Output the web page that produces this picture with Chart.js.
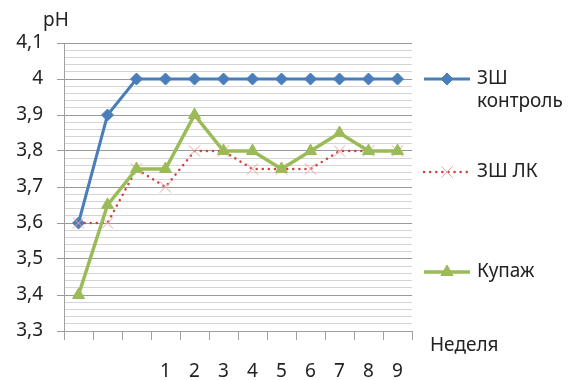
<!DOCTYPE html>
<html lang="ru">
<head>
  <meta charset="UTF-8" />
  <title>pH</title>
  <script src="https://cdn.jsdelivr.net/npm/chart.js"></script>
  <style>
    body { margin: 0; background: #fff; }
    .wrap { width: 571px; height: 380px; }
  </style>
</head>
<body>
  <div class="wrap"><canvas id="chart" width="571" height="380"></canvas></div>
  <script>
    // data
    const weeks = ['', '', '', '1', '2', '3', '4', '5', '6', '7', '8', '9'];
    const control = [3.6, 3.9, 4, 4, 4, 4, 4, 4, 4, 4, 4, 4];
    const lk = [3.6, 3.6, 3.75, 3.7, 3.8, 3.8, 3.75, 3.75, 3.75, 3.8, 3.8, 3.8];
    const kupazh = [3.4, 3.65, 3.75, 3.75, 3.9, 3.8, 3.8, 3.75, 3.8, 3.85, 3.8, 3.8];
    const seriesNames = [['ЗШ', 'контроль'], ['ЗШ ЛК'], ['Купаж']];
    const yTitle = 'pH';
    const xTitle = 'Неделя';

    const FONT = '"Noto Sans", sans-serif';
    const isMajor = v => Math.round(v * 100) % 10 === 0;

    // legend + axis titles drawn by hand to match the layout
    const extras = {
      id: 'extras',
      afterDraw(chart) {
        const c = chart.ctx;
        c.save();
        c.fillStyle = '#222';
        c.font = '19px ' + FONT;
        c.textBaseline = 'middle';
        c.textAlign = 'left';
        c.fillText(yTitle, 43, 21);
        c.fillText(xTitle, 430, 346);

        const rows = [79, 172, 272];
        chart.data.datasets.forEach((ds, i) => {
          const y = rows[i];
          c.beginPath();
          c.strokeStyle = ds.borderColor;
          c.lineWidth = ds.borderWidth;
          c.setLineDash(ds.borderDash || []);
          c.lineCap = ds.borderCapStyle || 'butt';
          c.moveTo(424, y);
          c.lineTo(470, y);
          c.stroke();
          c.setLineDash([]);
          c.lineCap = 'butt';
          c.fillStyle = ds.pointBackgroundColor;
          c.strokeStyle = ds.pointBorderColor;
          c.lineWidth = ds.pointBorderWidth;
          Chart.helpers.drawPoint(c, {
            pointStyle: ds.pointStyle,
            radius: ds.pointRadius,
            borderWidth: ds.pointBorderWidth
          }, 447, y);
          c.fillStyle = '#222';
          seriesNames[i].forEach((t, k) => c.fillText(t, 477, y + k * 23));
        });
        c.restore();
      }
    };

    const chart = new Chart(document.getElementById('chart'), {
      type: 'line',
      data: {
        labels: weeks,
        datasets: [
          {
            label: seriesNames[0].join(' '),
            data: control,
            borderColor: '#4a7ebb',
            pointBackgroundColor: '#4a7ebb',
            pointBorderColor: '#4a7ebb',
            borderWidth: 3,
            pointStyle: 'rectRot',
            pointRadius: 6,
            pointBorderWidth: 1,
            order: 2
          },
          {
            label: seriesNames[1].join(' '),
            data: lk,
            borderColor: '#d2423f',
            pointBackgroundColor: 'rgba(0,0,0,0)',
            pointBorderColor: '#eaa3a1',
            borderWidth: 2.5,
            borderDash: [0.1, 6],
            borderCapStyle: 'round',
            pointStyle: 'crossRot',
            pointRadius: 8,
            pointBorderWidth: 1,
            order: 1
          },
          {
            label: seriesNames[2].join(' '),
            data: kupazh,
            borderColor: '#9bbb59',
            pointBackgroundColor: '#9bbb59',
            pointBorderColor: '#9bbb59',
            borderWidth: 3.5,
            pointStyle: 'triangle',
            pointRadius: 7,
            pointBorderWidth: 1,
            order: 0
          }
        ]
      },
      options: {
        responsive: false,
        animation: false,
        layout: { padding: { top: 43, right: 159, left: 0, bottom: 0 } },
        plugins: { legend: { display: false }, tooltip: { enabled: false } },
        scales: {
          x: {
            offset: true,
            grid: {
              offset: true,
              drawOnChartArea: false,
              tickLength: 9,
              color: '#a0a0a0'
            },
            border: { color: '#a0a0a0' },
            ticks: {
              padding: 20,
              maxRotation: 0,
              autoSkip: false,
              color: '#222',
              font: { family: FONT, size: 19 }
            },
            afterFit(s) { s.height = 49; }
          },
          y: {
            min: 3.3,
            max: 4.1,
            grid: {
              color: ctx => isMajor(ctx.tick.value) ? '#9a9a9a' : '#d4d4d4',
              tickColor: ctx => isMajor(ctx.tick.value) ? '#9a9a9a' : 'rgba(0,0,0,0)',
              tickLength: 7,
              lineWidth: 1
            },
            border: { color: '#a0a0a0' },
            ticks: {
              stepSize: 0.02,
              maxTicksLimit: 100,
              autoSkip: false,
              padding: 14,
              color: '#222',
              font: { family: FONT, size: 19 },
              callback: v => isMajor(v) ? String(Math.round(v * 10) / 10).replace('.', ',') : ''
            },
            afterFit(s) { s.width = 64; }
          }
        }
      },
      plugins: [extras]
    });
  </script>
</body>
</html>
